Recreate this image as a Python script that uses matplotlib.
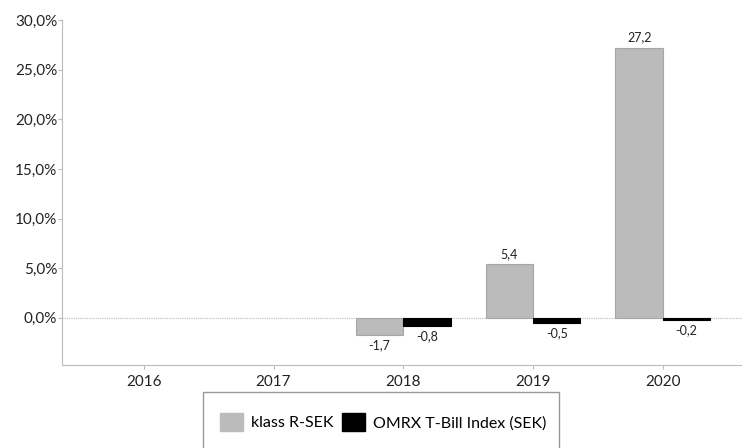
import matplotlib
matplotlib.use("Agg")
import matplotlib.pyplot as plt
import numpy as np
from matplotlib.patches import Rectangle, Patch

plt.rcParams['font.family'] = ['Lato', 'DejaVu Sans']

categories = ["2016", "2017", "2018", "2019", "2020"]
fund = [np.nan, np.nan, -1.7, 5.4, 27.2]
index = [np.nan, np.nan, -0.8, -0.5, -0.2]
fund_name = "klass R-SEK"
index_name = "OMRX T-Bill Index (SEK)"
yticks = [0, 5, 10, 15, 20, 25, 30]

W, H = 742, 448
fig = plt.figure(figsize=(W/100, H/100), dpi=100)
ax = fig.add_axes([62/W, (H-364)/H, 1-62/W, (364-20)/H])

x = np.arange(len(categories))
bw = 0.365
gray = "#BBBBBB"
ax.bar(x - bw/2, fund, bw, color=gray, edgecolor="#A6A6A6", linewidth=0.8, zorder=3)
ax.bar(x + bw/2, index, bw, color="#000000", edgecolor="#000000", linewidth=0.8, zorder=3)

def lab(v):
    return ("%.1f" % v).replace(".", ",")

for i in range(len(categories)):
    for xv, v in ((x[i] - bw/2, fund[i]), (x[i] + bw/2, index[i])):
        if np.isnan(v):
            continue
        if v >= 0:
            ax.annotate(lab(v), (xv, v), xytext=(0, 3), textcoords="offset points",
                        ha="center", va="bottom", fontsize=9, color="#222222")
        else:
            ax.annotate(lab(v), (xv, v), xytext=(0, -3), textcoords="offset points",
                        ha="center", va="top", fontsize=9, color="#222222")

ax.set_xlim(-0.63, 4.61)
ax.set_ylim(-4.65, 30)
ax.axhline(0, color="#BBBBBB", linestyle=(0, (1, 1)), linewidth=0.8, zorder=2)

ax.set_yticks(yticks)
ax.set_yticklabels([("%.1f%%" % t).replace(".", ",") for t in yticks])
ax.set_xticks(x)
ax.set_xticklabels(categories)
ax.tick_params(axis="y", length=3, labelsize=11, pad=0.5, colors="#BBBBBB", labelcolor="#222222")
ax.tick_params(axis="x", length=3, labelsize=11, pad=4, colors="#BBBBBB", labelcolor="#222222")

for s in ("top", "right"):
    ax.spines[s].set_visible(False)
ax.spines["left"].set_color("#BBBBBB")
ax.spines["bottom"].set_color("#BBBBBB")
ax.spines["bottom"].set_position(("outward", 1))

# legend frame
fig.patches.append(Rectangle((203/W, -0.05), (559-203)/W, (H-392)/H + 0.05,
                             transform=fig.transFigure, fill=False,
                             edgecolor="#999999", linewidth=1.0))
handles = [Patch(facecolor=gray, edgecolor=gray), Patch(facecolor="#000000", edgecolor="#000000")]
fig.legend(handles, [fund_name, index_name], loc="center",
           bbox_to_anchor=(383/W, (H-422)/H), ncol=2, frameon=False,
           fontsize=11.5, handlelength=1.45, handleheight=1.45,
           handletextpad=0.5, columnspacing=0.5)

fig.savefig("out.png", dpi=100)
